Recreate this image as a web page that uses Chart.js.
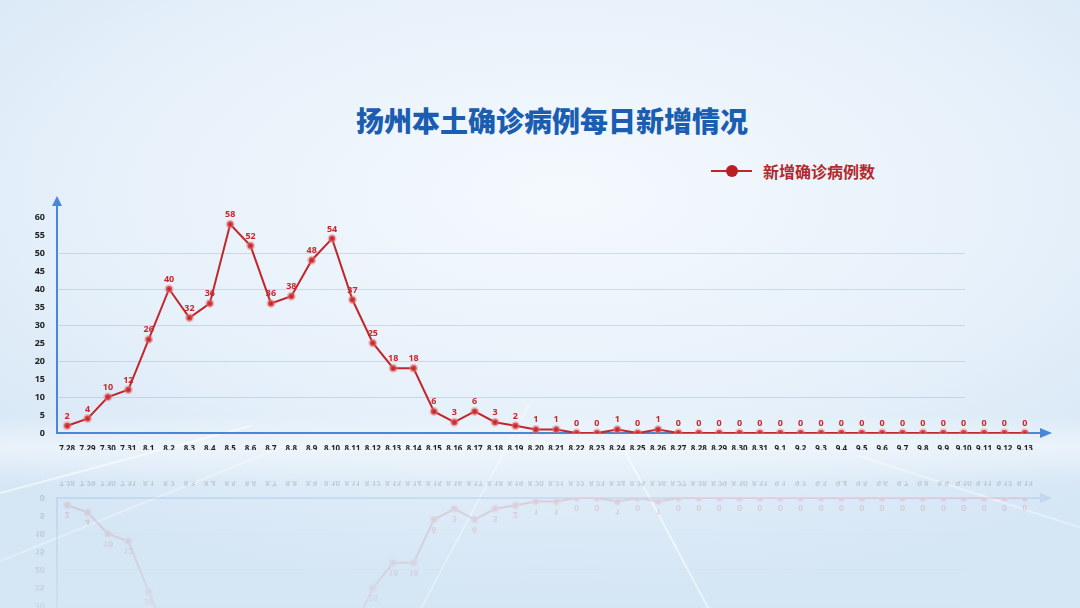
<!DOCTYPE html>
<html>
<head>
<meta charset="utf-8">
<script src="https://cdn.jsdelivr.net/npm/chart.js@4.4.0/dist/chart.umd.min.js"></script>
<style>
html,body{margin:0;padding:0;}
body{width:1080px;height:608px;overflow:hidden;position:relative;font-family:"Noto Sans CJK SC","Noto Sans",sans-serif;
  background:radial-gradient(ellipse 75% 65% at 52% 32%, #f4f9fd 0%, #e7f1fa 55%, #d5e6f5 100%);}
.band{position:absolute;left:0;top:415px;width:1080px;height:70px;
  background:linear-gradient(to bottom, rgba(255,255,255,0) 0%, rgba(255,255,255,0.45) 45%, rgba(255,255,255,0) 100%);}
.ray{position:absolute;height:1.5px;background:rgba(255,255,255,0.55);transform-origin:0 0;}
#title{position:absolute;left:0;width:1104px;top:105px;text-align:center;font-size:28px;line-height:30px;font-weight:900;color:#1b5db0;}
#legend{position:absolute;left:711px;top:160px;height:22px;display:flex;align-items:center;}
#legend .mk{position:relative;width:41px;height:22px;}
#legend .mk i{position:absolute;left:0;top:10px;width:41px;height:2px;background:#c0262b;}
#legend .mk b{position:absolute;left:15px;top:5px;width:12px;height:12px;border-radius:50%;background:#b81f25;}
#legend span{margin-left:11px;font-size:16px;font-weight:700;color:#b3282c;}
#main{position:absolute;left:0;top:190px;}
#mirror{position:absolute;left:0;top:481px;width:1080px;height:260px;transform:scaleY(-1);opacity:0.16;
  -webkit-mask-image:linear-gradient(to top, #000 0%, rgba(0,0,0,0.6) 35%, rgba(0,0,0,0) 75%);
  mask-image:linear-gradient(to top, #000 0%, rgba(0,0,0,0.6) 35%, rgba(0,0,0,0) 75%);}
</style>
</head>
<body>
<div class="band"></div>
<div class="ray" style="left:0;top:492px;width:260px;transform:rotate(-15deg);"></div>
<div class="ray" style="left:0;top:560px;width:320px;transform:rotate(-22deg);opacity:0.6"></div>
<div class="ray" style="left:620px;top:440px;width:200px;transform:rotate(62deg);"></div>
<div class="ray" style="left:860px;top:455px;width:240px;transform:rotate(18deg);opacity:0.7"></div>
<div class="ray" style="left:420px;top:608px;width:230px;transform:rotate(-62deg);opacity:0.6"></div>

<div id="title">扬州本土确诊病例每日新增情况</div>
<div id="legend"><div class="mk"><i></i><b></b></div><span>新增确诊病例数</span></div>

<canvas id="main" width="1080" height="260"></canvas>
<div id="mirror"><canvas id="mirrorChart" width="1080" height="260"></canvas></div>

<script>
const dates = ['7.28','7.29','7.30','7.31','8.1','8.2','8.3','8.4','8.5','8.6','8.7','8.8','8.9','8.10',
  '8.11','8.12','8.13','8.14','8.15','8.16','8.17','8.18','8.19','8.20','8.21','8.22','8.23','8.24','8.25','8.26',
  '8.27','8.28','8.29','8.30','8.31','9.1','9.2','9.3','9.4','9.5','9.6','9.7','9.8','9.9','9.10','9.11','9.12','9.13'];
const newCases = [2,4,10,12,26,40,32,36,58,52,36,38,48,54,
  37,25,18,18,6,3,6,3,2,1,1,0,0,1,0,1,
  0,0,0,0,0,0,0,0,0,0,0,0,0,0,0,0,0,0];
const seriesName = '新增确诊病例数';
const yTicks = [0, 60, 5];   // min, max, step
const gridValues = [10, 20, 30, 40, 50];

const axisBlue = '#4a86d8';
const lineRed = '#c0262b';

const decorPlugin = {
  id: 'decor',
  beforeDatasetsDraw(chart) {
    const {ctx, chartArea, scales} = chart;
    ctx.save();
    ctx.strokeStyle = 'rgba(150,170,190,0.35)';
    ctx.lineWidth = 1;
    gridValues.forEach(v => {
      const y = Math.round(scales.y.getPixelForValue(v)) + 0.5;
      ctx.beginPath();
      ctx.moveTo(chartArea.left, y);
      ctx.lineTo(chartArea.right - 70, y);
      ctx.stroke();
    });
    ctx.restore();
  },
  afterDatasetsDraw(chart) {
    const {ctx} = chart;
    const meta = chart.getDatasetMeta(0);
    ctx.save();
    ctx.font = 'bold 9px "Noto Sans", sans-serif';
    ctx.fillStyle = '#c8282c';
    ctx.textAlign = 'center';
    ctx.textBaseline = 'bottom';
    meta.data.forEach((p, i) => {
      ctx.fillText(String(newCases[i]), p.x, p.y - 5);
    });
    ctx.restore();
  },
  afterDraw(chart) {
    const {ctx, chartArea} = chart;
    ctx.save();
    ctx.strokeStyle = axisBlue;
    ctx.fillStyle = axisBlue;
    ctx.lineWidth = 2;
    // y arrow
    const x0 = chartArea.left;
    ctx.beginPath();
    ctx.moveTo(x0, chartArea.top);
    ctx.lineTo(x0, 14);
    ctx.stroke();
    ctx.beginPath();
    ctx.moveTo(x0 - 5, 16);
    ctx.lineTo(x0, 6);
    ctx.lineTo(x0 + 5, 16);
    ctx.closePath();
    ctx.fill();
    // x arrow
    const y0 = chartArea.bottom;
    ctx.beginPath();
    ctx.moveTo(chartArea.right, y0);
    ctx.lineTo(1042, y0);
    ctx.stroke();
    ctx.beginPath();
    ctx.moveTo(1040, y0 - 5);
    ctx.lineTo(1052, y0);
    ctx.lineTo(1040, y0 + 5);
    ctx.closePath();
    ctx.fill();
    ctx.restore();
  }
};

function makeChart(id) {
  const ctx = document.getElementById(id).getContext('2d');
  return new Chart(ctx, {
    type: 'line',
    data: {
      labels: dates,
      datasets: [{
        label: seriesName,
        data: newCases,
        borderColor: lineRed,
        borderWidth: 2,
        pointRadius: 3,
        pointBackgroundColor: '#c0262b',
        pointBorderColor: 'rgba(235,120,120,0.45)',
        pointBorderWidth: 3,
        tension: 0
      }]
    },
    options: {
      responsive: false,
      animation: false,
      layout: {padding: {top: 27, right: 45, left: 0, bottom: 0}},
      plugins: {legend: {display: false}, tooltip: {enabled: false}, title: {display: false}},
      scales: {
        x: {
          type: 'category',
          offset: true,
          grid: {display: false},
          border: {color: axisBlue, width: 2},
          ticks: {autoSkip: false, maxRotation: 0, minRotation: 0, padding: 3,
            color: '#222', font: {size: 8, weight: 'bold', family: '"Noto Sans", sans-serif'}},
          afterFit: s => { s.height = 17; }
        },
        y: {
          min: yTicks[0], max: yTicks[1],
          grid: {display: false},
          border: {color: axisBlue, width: 2},
          ticks: {stepSize: yTicks[2], padding: 4, color: '#222',
            font: {size: 9, weight: 'bold', family: '"Noto Sans", sans-serif'}},
          afterFit: s => { s.width = 57; }
        }
      }
    },
    plugins: [decorPlugin]
  });
}

makeChart('main');
makeChart('mirrorChart');
</script>
</body>
</html>
